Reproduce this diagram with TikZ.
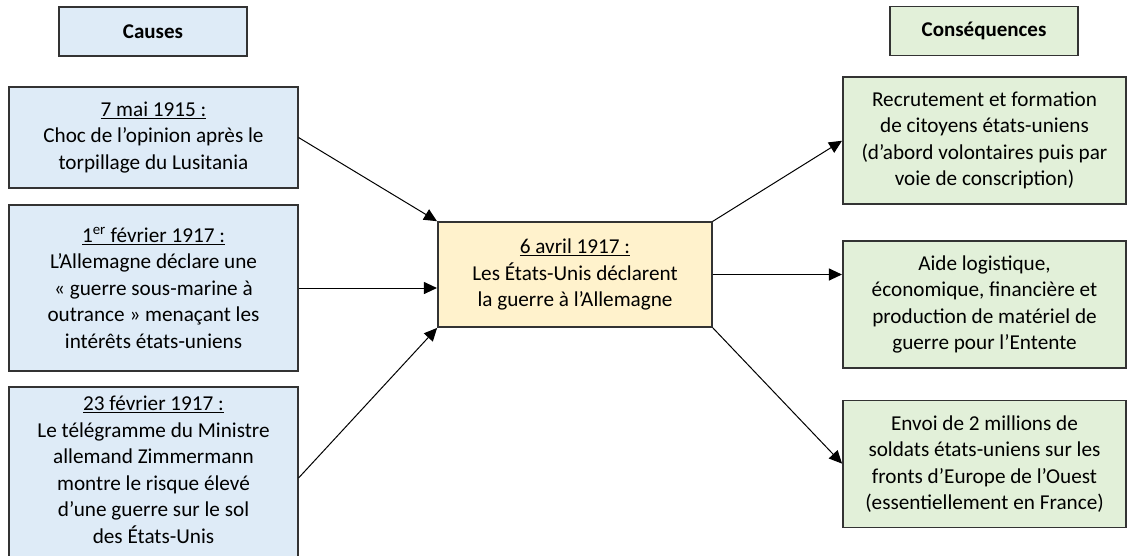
\documentclass[tikz,border=0pt]{standalone}
\usepackage{fontspec}
\setmainfont{Carlito}
\usetikzlibrary{arrows.meta}
\definecolor{cblue}{HTML}{DEEBF7}
\definecolor{cyel}{HTML}{FFF2CC}
\definecolor{cgreen}{HTML}{E2F0D9}
\definecolor{cborder}{HTML}{333333}
\tikzset{
  txt/.style={align=center, inner sep=0pt, font=\fontsize{21.2}{26.5}\selectfont},
  box/.style={txt, draw=cborder, line width=1.1pt},
  cause/.style={box, fill=cblue, minimum width=289pt},
  cons/.style={box, fill=cgreen, minimum width=283pt, minimum height=127pt},
  head/.style={box, minimum width=188pt, minimum height=49pt,
    font=\fontsize{21}{25}\selectfont\bfseries},
  arr/.style={line width=1pt, -{Triangle[length=13pt,width=12pt]}, shorten >=0.5pt}
}
\begin{document}
\begin{tikzpicture}[x=1pt,y=-1pt]
\useasboundingbox (0,0) rectangle (1127,555);
\node[head, fill=cblue] (hc) at (153,31.5) {Causes};
\node[head, fill=cgreen] (hq) at (984,31) {Conséquences};
\node[cause, minimum height=101pt] (b1) at (153.5,137.5)
  {\underline{7 mai 1915~:}\\Choc de l’opinion après le\\torpillage du Lusitania};
\node[cause, minimum height=166pt] (b2) at (153.5,288)
  {\underline{1\textsuperscript{er} février 1917~:}\\L’Allemagne déclare une\\« guerre sous-marine à\\outrance » menaçant les\\intérêts états-uniens};
\node[cause, minimum height=182pt] (b3) at (153.5,478) {};
\node[txt] (b3t) at (153.5,470)
  {\underline{23 février 1917~:}\\Le télégramme du Ministre\\allemand Zimmermann\\montre le risque élevé\\d’une guerre sur le sol\\des États-Unis};
\node[box, fill=cyel, minimum width=274pt, minimum height=105pt] (c) at (575,274.5)
  {\underline{6 avril 1917~:}\\Les États-Unis déclarent\\la guerre à l’Allemagne};
\node[cons] (r1) at (984.5,140.5)
  {Recrutement et formation\\de citoyens états-uniens\\(d’abord volontaires puis par\\voie de conscription)};
\node[cons] (r2) at (984.5,304.5)
  {Aide logistique,\\économique, financière et\\production de matériel de\\guerre pour l’Entente};
\node[cons] (r3) at (984.5,464)
  {Envoi de 2 millions de\\soldats états-uniens sur les\\fronts d’Europe de l’Ouest\\(essentiellement en France)};
\draw[arr] (b1.east) -- (c.north west);
\draw[arr] (b2.east) -- (b2.east -| c.west);
\draw[arr] (b3.east) -- (c.south west);
\draw[arr] (c.north east) -- (r1.west);
\draw[arr] (c.east) -- (c.east -| r2.west);
\draw[arr] (c.south east) -- (r3.west);
\end{tikzpicture}
\end{document}
